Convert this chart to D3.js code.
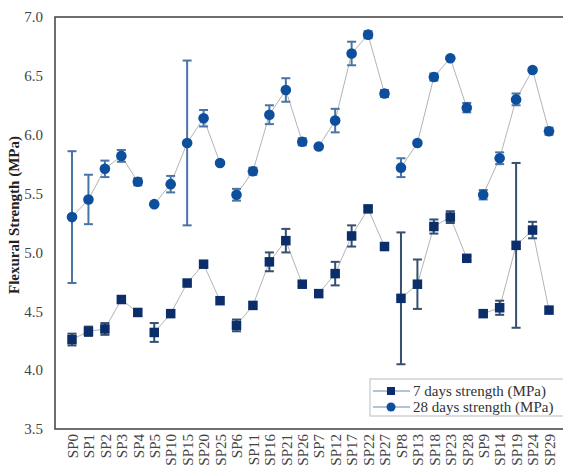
<!DOCTYPE html>
<html>
<head>
<meta charset="utf-8">
<script src="https://cdn.jsdelivr.net/npm/d3@7"></script>
<style>
  body { margin: 0; background: #fff; }
  svg { display: block; }
</style>
</head>
<body>
<div id="chart"><svg width="563" height="468"></svg></div>
<script>

/**************
***** DATA *****
**************/

const mixes = ["SP0", "SP1", "SP2", "SP3", "SP4",
               "SP5", "SP10", "SP15", "SP20", "SP25",
               "SP6", "SP11", "SP16", "SP21", "SP26",
               "SP7", "SP12", "SP17", "SP22", "SP27",
               "SP8", "SP13", "SP18", "SP23", "SP28",
               "SP9", "SP14", "SP19", "SP24", "SP29"];

const strength7 = [4.26, 4.33, 4.35, 4.60, 4.49,
                   4.32, 4.48, 4.74, 4.90, 4.59,
                   4.38, 4.55, 4.92, 5.10, 4.73,
                   4.65, 4.82, 5.14, 5.37, 5.05,
                   4.61, 4.73, 5.22, 5.30, 4.95,
                   4.48, 4.53, 5.06, 5.19, 4.51];

const err7 = [0.05, 0.04, 0.05, 0.00, 0.00,
              0.08, 0.00, 0.00, 0.00, 0.00,
              0.05, 0.00, 0.08, 0.10, 0.02,
              0.00, 0.10, 0.09, 0.02, 0.02,
              0.56, 0.21, 0.06, 0.05, 0.02,
              0.00, 0.06, 0.70, 0.07, 0.00];

const strength28 = [5.30, 5.45, 5.71, 5.82, 5.60,
                    5.41, 5.58, 5.93, 6.14, 5.76,
                    5.49, 5.69, 6.17, 6.38, 5.94,
                    5.90, 6.12, 6.69, 6.85, 6.35,
                    5.72, 5.93, 6.49, 6.65, 6.23,
                    5.49, 5.80, 6.30, 6.55, 6.03];

const err28 = [0.56, 0.21, 0.07, 0.05, 0.03,
               0.00, 0.07, 0.70, 0.07, 0.00,
               0.05, 0.03, 0.08, 0.10, 0.03,
               0.00, 0.10, 0.10, 0.03, 0.03,
               0.08, 0.00, 0.03, 0.00, 0.04,
               0.04, 0.05, 0.05, 0.00, 0.03];

const yTicks = [3.5, 4.0, 4.5, 5.0, 5.5, 6.0, 6.5, 7.0];
const groupSize = 5;

const seriesList = [
    {label: "7 days strength (MPa)", values: strength7, errs: err7, shape: "square"},
    {label: "28 days strength (MPa)", values: strength28, errs: err28, shape: "circle"}
];

/**********************
***** BASIC SETUP *****
**********************/

const svg = d3.select("#chart").select("svg");
const width = 563;
const height = 468;
const margin = {top: 17, left: 55, right: -3, bottom: 39};
const plotBottom = height - margin.bottom;
const plotRight = width - margin.right;

const serif = "'Liberation Serif', 'Times New Roman', serif";

const squareColor = "#0b2e6b";
const circleColor = "#0d4f9c";
const squareErr = "#34506e";
const circleErr = "#4a74a4";
const lineColor = "#b4b4b4";

/***********************
***** X & Y SCALES *****
***********************/

const xScale = d3.scalePoint()
    .domain(mixes)
    .range([72, 549]);

const yScale = d3.scaleLinear()
    .domain([3.5, 7])
    .range([plotBottom, margin.top]);

/****************
***** AXES  *****
****************/

svg.append("g")
    .attr("class", "yAxis")
    .attr("transform", `translate(${margin.left - 8}, 0)`)
    .call(d3.axisLeft(yScale)
        .tickValues(yTicks)
        .tickSize(0)
        .tickPadding(4)
        .tickFormat(d3.format(".1f")))
    .call(g => g.select(".domain").remove())
    .selectAll("text")
        .style("font-family", serif)
        .style("font-size", "15px")
        .attr("fill", "#444");

svg.append("g")
    .attr("class", "xAxis")
    .attr("transform", `translate(0, ${plotBottom})`)
    .call(d3.axisBottom(xScale).tickSize(0).tickPadding(0))
    .call(g => g.select(".domain").remove())
    .selectAll("text")
        .attr("transform", "rotate(-90)")
        .attr("x", -5)
        .attr("y", 0)
        .attr("dy", "0.35em")
        .style("text-anchor", "end")
        .style("font-family", serif)
        .style("font-size", "15px")
        .attr("fill", "#444");

// frame
svg.append("rect")
    .attr("x", margin.left)
    .attr("y", margin.top)
    .attr("width", plotRight - margin.left)
    .attr("height", plotBottom - margin.top)
    .attr("fill", "none")
    .attr("stroke", "#4a4a4a")
    .attr("stroke-width", 1.6);

svg.append("text")
    .attr("class", "yLabel")
    .attr("transform", "translate(19, 215) rotate(-90)")
    .attr("text-anchor", "middle")
    .style("font-family", serif)
    .style("font-weight", "bold")
    .style("font-size", "15px")
    .attr("fill", "#222")
    .text("Flexural Strength (MPa)");

/***************************************
***** LINES, ERROR BARS, MARKERS *****
***************************************/

const plot = svg.append("g").attr("id", "plot");

const line = d3.line()
    .x(d => xScale(d.mix))
    .y(d => yScale(d.value));

seriesList.forEach(function(s) {
    let rows = mixes.map((m, i) => ({mix: m, value: s.values[i], err: s.errs[i]}));
    let groups = d3.groups(rows, d => Math.floor(mixes.indexOf(d.mix) / groupSize));
    let errColor = s.shape === "square" ? squareErr : circleErr;
    let fill = s.shape === "square" ? squareColor : circleColor;

    plot.selectAll(".line-" + s.shape)
        .data(groups)
        .enter()
        .append("path")
        .attr("class", "line-" + s.shape)
        .attr("d", g => line(g[1]))
        .attr("fill", "none")
        .attr("stroke", lineColor)
        .attr("stroke-width", 1);

    let bars = plot.selectAll(".err-" + s.shape)
        .data(rows.filter(d => d.err > 0))
        .enter()
        .append("g")
        .attr("class", "err-" + s.shape)
        .attr("stroke", errColor)
        .attr("stroke-width", 2);

    bars.append("line")
        .attr("x1", d => xScale(d.mix))
        .attr("x2", d => xScale(d.mix))
        .attr("y1", d => yScale(d.value - d.err))
        .attr("y2", d => yScale(d.value + d.err));

    [-1, 1].forEach(function(sign) {
        bars.append("line")
            .attr("x1", d => xScale(d.mix) - 4.5)
            .attr("x2", d => xScale(d.mix) + 4.5)
            .attr("y1", d => yScale(d.value + sign * d.err))
            .attr("y2", d => yScale(d.value + sign * d.err));
    });

    if (s.shape === "square") {
        plot.selectAll(".mark-square")
            .data(rows)
            .enter()
            .append("rect")
            .attr("class", "mark-square")
            .attr("x", d => xScale(d.mix) - 4.75)
            .attr("y", d => yScale(d.value) - 4.75)
            .attr("width", 9.5)
            .attr("height", 9.5)
            .attr("fill", fill);
    } else {
        plot.selectAll(".mark-circle")
            .data(rows)
            .enter()
            .append("circle")
            .attr("class", "mark-circle")
            .attr("cx", d => xScale(d.mix))
            .attr("cy", d => yScale(d.value))
            .attr("r", 5.3)
            .attr("fill", fill);
    }
});

/*****************
***** LEGEND *****
*****************/

const legend = svg.append("g").attr("id", "legend");

legend.append("rect")
    .attr("x", 370)
    .attr("y", 379)
    .attr("width", 200)
    .attr("height", 37)
    .attr("fill", "#fff")
    .attr("stroke", "#bbb")
    .attr("stroke-width", 1);

seriesList.forEach(function(s, i) {
    let ly = 391 + i * 16;
    legend.append("line")
        .attr("x1", 373)
        .attr("x2", 410)
        .attr("y1", ly)
        .attr("y2", ly)
        .attr("stroke", "#6a86a8")
        .attr("stroke-width", 1);
    if (s.shape === "square") {
        legend.append("rect")
            .attr("x", 391 - 4)
            .attr("y", ly - 4)
            .attr("width", 8)
            .attr("height", 8)
            .attr("fill", squareColor);
    } else {
        legend.append("circle")
            .attr("cx", 391)
            .attr("cy", ly)
            .attr("r", 4.5)
            .attr("fill", circleColor);
    }
    legend.append("text")
        .attr("x", 413)
        .attr("y", ly)
        .attr("dy", "0.35em")
        .style("font-family", serif)
        .style("font-size", "15px")
        .attr("fill", "#333")
        .text(s.label);
});

</script>
</body>
</html>
